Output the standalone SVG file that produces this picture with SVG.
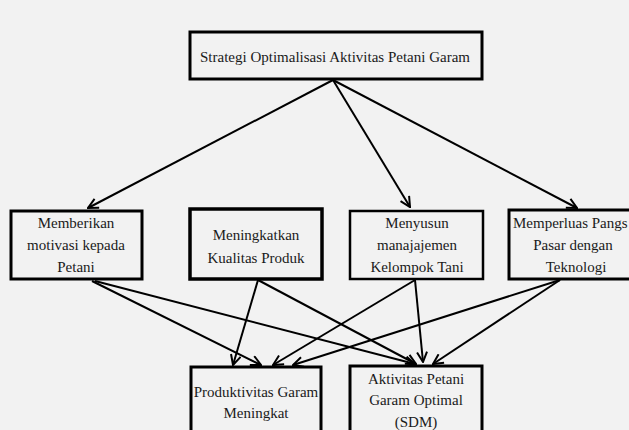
<svg xmlns="http://www.w3.org/2000/svg" width="629" height="430" viewBox="0 0 629 430">
<defs>
<style>
.box{fill:#f2f2f2;stroke:#000;stroke-width:3}
.t{font-family:"Liberation Serif","Times New Roman",serif;font-size:15px;fill:#1a1a1a;text-anchor:middle}
.s{text-anchor:start}
.c{stroke:#000;stroke-width:2;fill:none;marker-end:url(#ah)}
</style>
<marker id="ah" viewBox="0 0 12 12" refX="11" refY="6" markerWidth="12" markerHeight="12" markerUnits="userSpaceOnUse" orient="auto">
<path d="M1,1 L11,6 L1,11" fill="none" stroke="#000" stroke-width="2"/>
</marker>
</defs>
<rect width="629" height="430" fill="#f2f2f2"/>
<g id="connectors">
<line class="c" x1="333" y1="80" x2="88" y2="208"/>
<line class="c" x1="333" y1="80" x2="410" y2="207"/>
<line class="c" x1="333" y1="80" x2="577" y2="208"/>
<line class="c" x1="92" y1="281" x2="261" y2="365"/>
<line class="c" x1="95" y1="281" x2="415" y2="364"/>
<line class="c" x1="258" y1="280" x2="233" y2="365"/>
<line class="c" x1="258" y1="280" x2="416" y2="364"/>
<line class="c" x1="415" y1="280" x2="273" y2="365"/>
<line class="c" x1="415" y1="280" x2="423" y2="362"/>
<line class="c" x1="560" y1="280" x2="293" y2="365"/>
<line class="c" x1="560" y1="280" x2="433" y2="364"/>
</g>
<g id="top">
<rect class="box" x="190" y="32" width="292" height="47"/>
<text class="t" x="335" y="62">Strategi Optimalisasi Aktivitas Petani Garam</text>
</g>
<g id="n1">
<rect class="box" x="11" y="211" width="131" height="68"/>
<text class="t" x="76" y="228">Memberikan</text>
<text class="t" x="76" y="250">motivasi kepada</text>
<text class="t" x="76" y="272">Petani</text>
</g>
<g id="n2">
<rect class="box" x="190" y="209" width="132" height="70" style="stroke-width:3.5"/>
<text class="t" x="256" y="240">Meningkatkan</text>
<text class="t" x="256" y="263">Kualitas Produk</text>
</g>
<g id="n3">
<rect class="box" x="350" y="211" width="133" height="68" style="stroke-width:2.5"/>
<text class="t" x="417" y="228">Menyusun</text>
<text class="t" x="417" y="250">manajajemen</text>
<text class="t" x="417" y="272">Kelompok Tani</text>
</g>
<g id="n4">
<rect class="box" x="509" y="210" width="140" height="69"/>
<text class="t s" x="513" y="228">Memperluas Pangs</text>
<text class="t" x="573" y="250">Pasar dengan</text>
<text class="t" x="576" y="272">Teknologi</text>
</g>
<g id="n5">
<rect class="box" x="191" y="367" width="130" height="80"/>
<text class="t" x="256" y="397">Produktivitas Garam</text>
<text class="t" x="256" y="418">Meningkat</text>
</g>
<g id="n6">
<rect class="box" x="350" y="366" width="132" height="80"/>
<text class="t" x="416" y="384">Aktivitas Petani</text>
<text class="t" x="416" y="405">Garam Optimal</text>
<text class="t" x="416" y="427">(SDM)</text>
</g>
</svg>
